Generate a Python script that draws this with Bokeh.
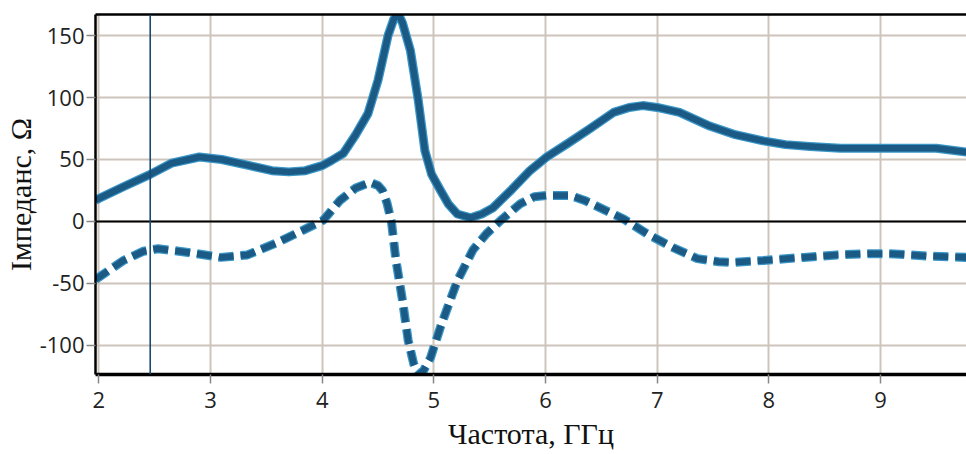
from bokeh.plotting import figure
from bokeh.models import Range1d, LinearAxis, FixedTicker, Span, PrintfTickFormatter
from bokeh.embed import file_html
from bokeh.resources import INLINE

# Real part of impedance (solid)
re_freq = [1.97, 2.0, 2.22, 2.46, 2.65, 2.9, 3.1, 3.35, 3.55, 3.7, 3.85, 4.0, 4.08, 4.19,
           4.3, 4.41, 4.5, 4.59, 4.64, 4.68, 4.72, 4.79, 4.86, 4.92, 4.98, 5.06, 5.13,
           5.21, 5.33, 5.43, 5.53, 5.7, 5.86, 6.01, 6.2, 6.4, 6.61, 6.75, 6.87, 7.0,
           7.2, 7.47, 7.7, 7.95, 8.15, 8.37, 8.64, 9.0, 9.3, 9.5, 9.77]
re_val = [17, 18.5, 28, 38, 47, 52, 50, 45, 41, 40, 41, 45, 49, 55,
          70, 87, 114, 150, 163, 168, 160, 138, 98, 57, 38, 25, 14,
          6, 3, 6, 11, 26, 41, 52, 63, 75, 88, 92, 93.5, 92,
          88, 77, 70, 65, 62, 60.5, 59, 59, 59, 59, 56]

# Imaginary part of impedance (dashed)
im_freq = [1.97, 2.0, 2.22, 2.4, 2.53, 2.8, 3.09, 3.33, 3.6, 3.83, 4.01, 4.16, 4.3, 4.43,
           4.5, 4.54, 4.58, 4.62, 4.66, 4.72, 4.77, 4.82, 4.86, 4.91, 4.97, 5.06, 5.21,
           5.35, 5.47, 5.6, 5.77, 5.9, 6.01, 6.22, 6.35, 6.49, 6.7, 6.91, 7.14, 7.36,
           7.55, 7.68, 7.95, 8.31, 8.61, 8.9, 9.08, 9.44, 9.77]
im_val = [-47, -45, -31.5, -24, -22, -25, -29, -27, -17, -7, 1, 17, 27, 31.5,
          29, 25, 15, 0, -31, -64, -96, -115, -124, -120, -110, -85, -48,
          -23, -10, 1, 14, 20, 21, 21, 17, 11, 2, -10, -21, -30,
          -32.5, -33, -31.5, -29, -27, -26, -26, -28, -29]

x_ticks = [2, 3, 4, 5, 6, 7, 8, 9]
y_ticks = [-100, -50, 0, 50, 100, 150]
marker_freq = 2.46

p = figure(width=966, height=454, output_backend="svg", toolbar_location=None,
           x_range=Range1d(1.97, 9.77), y_range=Range1d(-123.5, 167),
           min_border_left=95, min_border_top=14, min_border_bottom=80, min_border_right=0)
p.outline_line_color = None
p.background_fill_color = "white"

p.xaxis.ticker = FixedTicker(ticks=x_ticks)
p.yaxis.ticker = FixedTicker(ticks=y_ticks)
p.xaxis.formatter = PrintfTickFormatter(format="%d")
p.yaxis.formatter = PrintfTickFormatter(format="%d")
for ax in (p.xaxis[0], p.yaxis[0]):
    ax.axis_line_color = "black"
    ax.major_tick_line_color = "#888888"
    ax.major_tick_line_width = 1.5
    ax.major_tick_out = 9
    ax.major_tick_in = 0
    ax.minor_tick_line_color = None
    ax.major_label_text_font = "Open Sans"
    ax.major_label_text_font_size = "22px"
    ax.major_label_text_color = "#222222"
    ax.axis_label_text_font = "Liberation Serif"
    ax.axis_label_text_font_style = "normal"
    ax.axis_label_text_font_size = "30px"
    ax.axis_label_text_color = "#111111"
p.xaxis.axis_line_width = 3.5
p.yaxis.axis_line_width = 2.5
p.xaxis.major_label_standoff = 8
p.yaxis.major_label_standoff = 2
p.xaxis.axis_label = "Частота, ГГц"
p.yaxis.axis_label = "Імпеданс, Ω"
p.xaxis.axis_label_standoff = 6
p.yaxis.axis_label_standoff = 0

top = LinearAxis(ticker=FixedTicker(ticks=[]), major_label_text_font_size="0px",
                 major_tick_out=0, minor_tick_out=0, axis_line_width=2.5,
                 axis_line_color="black")
p.add_layout(top, "above")

p.xgrid.grid_line_color = "#cdc4bb"
p.ygrid.grid_line_color = "#cdc4bb"
p.xgrid.grid_line_width = 2
p.ygrid.grid_line_width = 2

p.add_layout(Span(location=0, dimension="width", line_color="black", line_width=2))
p.add_layout(Span(location=marker_freq, dimension="height", line_color="#1a4a70", line_width=1.6))

edge = "#3a96c6"
core = "#1c5a86"
p.line(re_freq, re_val, line_color=edge, line_width=9, line_join="round")
p.line(re_freq, re_val, line_color=core, line_width=6.5, line_join="round")
p.line(im_freq, im_val, line_color=edge, line_width=9, line_dash="15 7", line_cap="butt")
p.line(im_freq, im_val, line_color=core, line_width=6.5, line_dash="15 7", line_cap="butt")

open("out.html", "w").write(file_html(p, INLINE))
